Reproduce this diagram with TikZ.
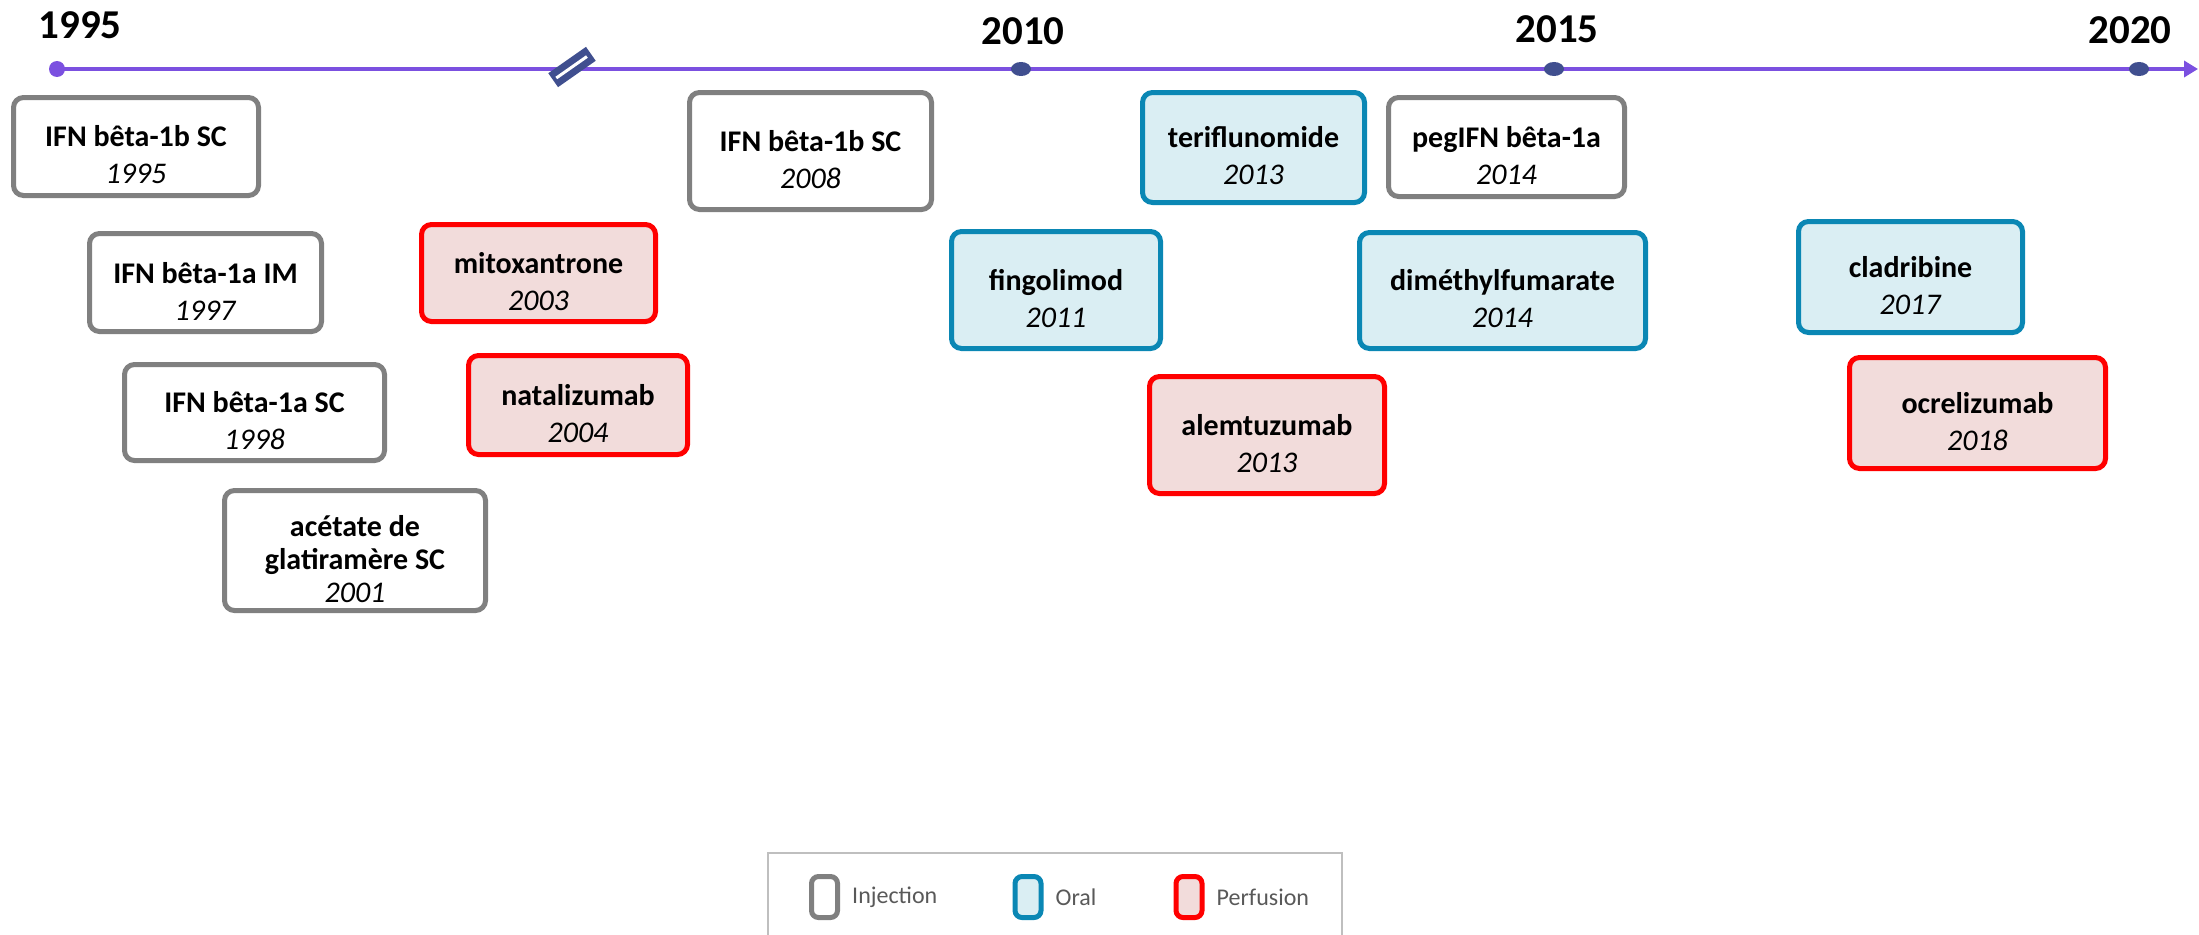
\documentclass[tikz,border=0pt]{standalone}
\usepackage{fontspec}
\setmainfont{Carlito}
\usetikzlibrary{positioning,arrows.meta,calc}
\definecolor{axiscol}{HTML}{7B50E0}
\definecolor{tickcol}{HTML}{404F8F}
\definecolor{injcol}{HTML}{808080}
\definecolor{oralcol}{HTML}{0A87B4}
\definecolor{oralfill}{HTML}{DAEEF3}
\definecolor{perfcol}{HTML}{FF0000}
\definecolor{perffill}{HTML}{F2DCDB}
\definecolor{legtextcol}{HTML}{595959}
\newcommand{\drugstrut}{\rule{0pt}{38pt}}

\begin{document}
\begin{tikzpicture}
[
    x=1pt, y=-1pt,
]

\tikzstyle{drug}=[rectangle, rounded corners=10pt, line width=5pt, align=center, inner sep=2pt, text=black, font=\fontsize{30}{37}\selectfont]
\tikzstyle{injection}=[drug, draw=injcol, fill=white]
\tikzstyle{oral}=[drug, draw=oralcol, fill=oralfill]
\tikzstyle{perfusion}=[drug, draw=perfcol, fill=perffill]
\tikzstyle{year}=[inner sep=0pt, font=\bfseries\fontsize{41}{41}\selectfont]
\tikzstyle{swatch}=[rectangle, rounded corners=7pt, line width=5pt, minimum width=26pt, minimum height=41pt, inner sep=0pt]
\tikzstyle{legtext}=[inner sep=0pt, text=legtextcol, font=\fontsize{24}{24}\selectfont]

\useasboundingbox (0,0) rectangle (2199,934);

% axis
\coordinate (t1995) at (57,69);
\coordinate (t2010) at (1021,69);
\coordinate (t2015) at (1554,69);
\coordinate (t2020) at (2139,69);
\coordinate (tend) at (2198,69);
\draw [axiscol, line width=4pt, -{Triangle[length=14pt,width=16pt]}] (t1995) -- (tend);
\fill [axiscol] (t1995) circle (8pt);
\foreach \t in {t2010,t2015,t2020}
    \fill [tickcol] (\t) ellipse (10pt and 7pt);
\node [rectangle, fill=tickcol, rotate=35, minimum width=46pt, minimum height=17pt, inner sep=0pt] (brk) at (572,67) {};
\draw [white, line width=3pt, shorten <=4pt, shorten >=5pt] (brk.west) -- (brk.east);

\node [year] (y1995) at (80,25) {1995};
\node [year] (y2010) at (1023,31) {2010};
\node [year] (y2015) at (1557,29) {2015};
\node [year] (y2020) at (2130,30) {2020};

% injection
\node [injection, minimum width=245pt, minimum height=98pt] (ifn1b) at (136,146.5) {\drugstrut\textbf{IFN bêta-1b SC}\\\textit{1995}};
\node [injection, minimum width=232pt, minimum height=98pt] (ifn1aim) at (205.5,282.5) {\drugstrut\textbf{IFN bêta-1a IM}\\\textit{1997}};
\node [injection, minimum width=260pt, minimum height=96pt] (ifn1asc) at (254.5,412.5) {\drugstrut\textbf{IFN bêta-1a SC}\\\textit{1998}};
\node [injection, minimum width=261pt, minimum height=120pt, font=\fontsize{30}{33}\selectfont] (glat) at (355,550.5) {\drugstrut\textbf{acétate de}\\\textbf{glatiramère SC}\\\textit{2001}};
\node [injection, minimum width=242pt, minimum height=117pt] (ifn1bb) at (810.5,151) {\drugstrut\textbf{IFN bêta-1b SC}\\\textit{2008}};
\node [injection, minimum width=236pt, minimum height=99pt] (pegifn) at (1506.5,147) {\drugstrut\textbf{pegIFN bêta-1a}\\\textit{2014}};

% oral
\node [oral, minimum width=222pt, minimum height=110pt] (teri) at (1253.5,147.5) {\drugstrut\textbf{teriflunomide}\\\textit{2013}};
\node [oral, minimum width=209pt, minimum height=117pt] (fingo) at (1056,290) {\drugstrut\textbf{fingolimod}\\\textit{2011}};
\node [oral, minimum width=286pt, minimum height=116pt] (dmf) at (1502.5,290.5) {\drugstrut\textbf{diméthylfumarate}\\\textit{2014}};
\node [oral, minimum width=224pt, minimum height=111pt] (cladri) at (1910.5,277) {\drugstrut\textbf{cladribine}\\\textit{2017}};

% perfusion
\node [perfusion, minimum width=234pt, minimum height=97pt] (mitox) at (538.5,273) {\drugstrut\textbf{mitoxantrone}\\\textit{2003}};
\node [perfusion, minimum width=219pt, minimum height=99pt] (natal) at (578,405) {\drugstrut\textbf{natalizumab}\\\textit{2004}};
\node [perfusion, minimum width=235pt, minimum height=117pt] (alem) at (1267,435) {\drugstrut\textbf{alemtuzumab}\\\textit{2013}};
\node [perfusion, minimum width=256pt, minimum height=111pt] (ocre) at (1977.5,413) {\drugstrut\textbf{ocrelizumab}\\\textit{2018}};

% legend
\coordinate (legnw) at (768,853);
\coordinate (legne) at (1342,853);
\draw [black!25, line width=1.5pt] ($(legnw)+(0,85)$) -- (legnw) -- (legne) -- ($(legne)+(0,85)$);
\node [swatch, draw=injcol, fill=white] (leginj) at (824.5,897) {};
\node [legtext, right=12pt of leginj] (leginjtext) {Injection};
\node [swatch, draw=oralcol, fill=oralfill] (legoral) at (1028,897) {};
\node [legtext, right=12pt of legoral] (legoraltext) {Oral};
\node [swatch, draw=perfcol, fill=perffill] (legperf) at (1189,897) {};
\node [legtext, right=12pt of legperf] (legperftext) {Perfusion};
\end{tikzpicture}
\end{document}
